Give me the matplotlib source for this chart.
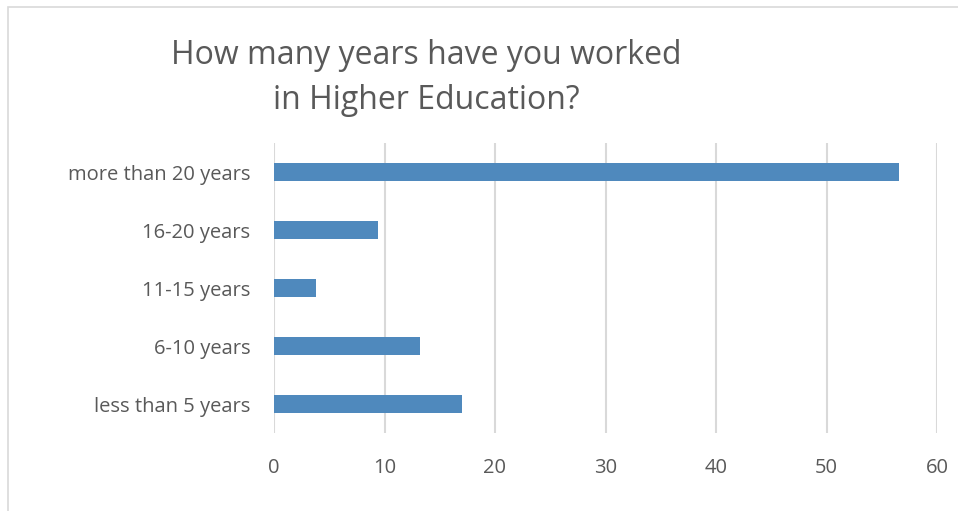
import matplotlib
matplotlib.use("Agg")
import matplotlib.pyplot as plt
from matplotlib.patches import Rectangle

categories = ["less than 5 years", "6-10 years", "11-15 years", "16-20 years", "more than 20 years"]
values = [17.0, 13.2, 3.8, 9.4, 56.6]
xticks = [0, 10, 20, 30, 40, 50, 60]

plt.rcParams['font.family'] = ['Open Sans', 'DejaVu Sans']
text_color = '#595959'

fig = plt.figure(figsize=(9.58, 5.11), dpi=100)
W, H = 958, 511
ax = fig.add_axes([274 / W, 1 - 433 / H, (937 - 274) / W, (433 - 143) / H])

ax.barh(range(len(categories)), values, height=0.31, color='#4f89bd', zorder=3)
ax.set_xlim(0, 60)
ax.set_ylim(-0.5, len(categories) - 0.5)
ax.set_xticks(xticks)
ax.set_xticklabels([str(t) for t in xticks])
ax.set_yticks(range(len(categories)))
ax.set_yticklabels(categories)
ax.grid(axis='x', color='#d9d9d9', linewidth=1.5, zorder=0)
for s in ax.spines.values():
    s.set_visible(False)
ax.tick_params(axis='both', length=0, colors=text_color, labelsize=14.5)
ax.tick_params(axis='x', pad=18)
ax.tick_params(axis='y', pad=17)

fig.text(426 / W, 1 - 78 / H, "How many years have you worked\nin Higher Education?",
         ha='center', va='center', fontsize=23, color=text_color, linespacing=1.45)

fig.patches.append(Rectangle((8 / W, -0.1), 1.2, 1 - 7 / H + 0.1, transform=fig.transFigure,
                             fill=False, edgecolor='#d9d9d9', linewidth=1.2))

fig.savefig("out.png", dpi=100)
